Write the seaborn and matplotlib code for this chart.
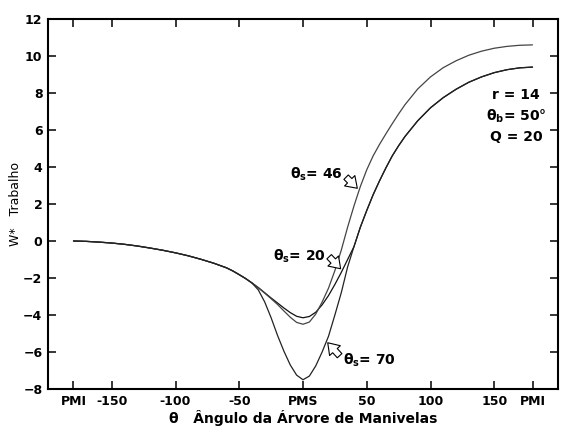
import numpy as np
import pandas as pd
import seaborn as sns
import matplotlib
matplotlib.use("Agg")
import matplotlib.pyplot as plt

# ---- data ----
theta = [-180, -170, -160, -150, -140, -130, -120, -110, -100, -90, -80, -70, -60,
         -55, -50, -45, -40, -35, -30, -25, -20, -15, -10, -5, 0, 5, 10, 15, 20, 25,
         30, 35, 40, 45, 50, 55, 60, 65, 70, 75, 80,
         90, 100, 110, 120, 130, 140, 150, 160, 170, 180]

w_s20 = [0.00, -0.02, -0.06, -0.11, -0.18, -0.27, -0.38, -0.50, -0.64, -0.80, -0.99, -1.20, -1.45,
         -1.62, -1.82, -2.03, -2.27, -2.52, -2.80, -3.08, -3.35, -3.62, -3.87, -4.07, -4.15, -4.08, -3.85, -3.45, -2.95, -2.35,
         -1.70, -1.00, -0.30, 0.75, 1.65, 2.50, 3.25, 3.95, 4.60, 5.15, 5.65,
         6.50, 7.20, 7.75, 8.20, 8.58, 8.87, 9.10, 9.26, 9.36, 9.40]

w_s46 = [0.00, -0.02, -0.06, -0.11, -0.18, -0.27, -0.38, -0.50, -0.64, -0.80, -0.99, -1.20, -1.45,
         -1.62, -1.82, -2.03, -2.27, -2.53, -2.82, -3.12, -3.43, -3.78, -4.12, -4.40, -4.50, -4.38, -3.95, -3.30, -2.55, -1.60,
         -0.50, 0.75, 1.90, 2.95, 3.85, 4.60, 5.22, 5.79, 6.34, 6.87, 7.37,
         8.22, 8.87, 9.37, 9.74, 10.04, 10.26, 10.42, 10.52, 10.58, 10.60]

w_s70 = [0.00, -0.02, -0.06, -0.11, -0.18, -0.27, -0.38, -0.50, -0.64, -0.80, -0.99, -1.20, -1.45,
         -1.62, -1.82, -2.03, -2.27, -2.65, -3.30, -4.15, -5.10, -5.95, -6.70, -7.25, -7.50, -7.30, -6.75, -6.00, -5.15, -4.00,
         -2.80, -1.40, -0.30, 0.75, 1.65, 2.50, 3.25, 3.95, 4.60, 5.15, 5.65,
         6.50, 7.20, 7.75, 8.20, 8.58, 8.87, 9.10, 9.26, 9.36, 9.40]

case_names = ["s20", "s46", "s70"]

x_ticks = [-180, -150, -100, -50, 0, 50, 100, 150, 180]
x_tick_labels = ["PMI", "-150", "-100", "-50", "PMS", "50", "100", "150", "PMI"]
y_ticks = [-8, -6, -4, -2, 0, 2, 4, 6, 8, 10, 12]

# ---- style ----
sns.set_style("ticks")
plt.rcParams["font.family"] = ["DejaVu Sans"]
plt.rcParams["mathtext.fontset"] = "dejavusans"
plt.rcParams["text.color"] = "black"
plt.rcParams["axes.labelcolor"] = "black"
plt.rcParams["xtick.color"] = "black"
plt.rcParams["ytick.color"] = "black"

df = pd.concat([
    pd.DataFrame({"theta": theta, "W": w, "case": name})
    for name, w in zip(case_names, [w_s20, w_s46, w_s70])
], ignore_index=True)

fig = plt.figure(figsize=(5.62, 4.29), dpi=100)
ax = fig.add_axes([48 / 562, 1 - 389 / 429, 510 / 562, 370 / 429])

sns.lineplot(data=df, x="theta", y="W", hue="case", palette=["#111111", "#444444", "#222222"],
             legend=False, ax=ax, linewidth=0.9, sort=False, estimator=None)

ax.set_xlim(-200, 200)
ax.set_ylim(-8, 12)
ax.set_xticks(x_ticks)
ax.set_xticklabels(x_tick_labels)
ax.set_yticks(y_ticks)
ax.tick_params(direction="in", top=True, right=True, length=6, width=1.1,
               labelsize=9, pad=4, colors="black", labelcolor="black")
for lab in ax.get_xticklabels() + ax.get_yticklabels():
    lab.set_fontweight("bold")
for sp in ax.spines.values():
    sp.set_linewidth(1.5)
    sp.set_color("black")

ax.set_xlabel("θ   Ângulo da Árvore de Manivelas", fontsize=10, fontweight="bold",
              labelpad=2, color="black")
ax.set_ylabel("W*   Trabalho", fontsize=9, labelpad=1, color="black")

# ---- annotations ----
fs = 10
arrow = dict(arrowstyle="simple,head_length=0.55,head_width=0.75,tail_width=0.32",
             fc="white", ec="black", lw=0.8, shrinkA=0, shrinkB=0, mutation_scale=14)

ax.text(-10.1, 3.38, "θ$_\\mathbf{s}$= 46", ha="left", va="baseline", fontsize=fs,
        fontweight="bold", color="black")
ax.annotate("", xy=(42.6, 2.85), xytext=(33.8, 3.45), arrowprops=arrow)

ax.text(-23.3, -1.06, "θ$_\\mathbf{s}$= 20", ha="left", va="baseline", fontsize=fs,
        fontweight="bold", color="black")
ax.annotate("", xy=(29.5, -1.5), xytext=(20.5, -0.85), arrowprops=arrow)

ax.text(31.0, -6.7, "θ$_\\mathbf{s}$= 70", ha="left", va="baseline", fontsize=fs,
        fontweight="bold", color="black")
ax.annotate("", xy=(19.4, -5.5), xytext=(28.7, -6.2), arrowprops=arrow)

ax.text(167, 7.66, "r = 14", ha="center", va="baseline", fontsize=fs, fontweight="bold", color="black")
ax.text(167, 6.53, "θ$_\\mathbf{b}$= 50°", ha="center", va="baseline", fontsize=fs, fontweight="bold", color="black")
ax.text(167, 5.39, "Q = 20", ha="center", va="baseline", fontsize=fs, fontweight="bold", color="black")

fig.savefig("out.png", dpi=100)
